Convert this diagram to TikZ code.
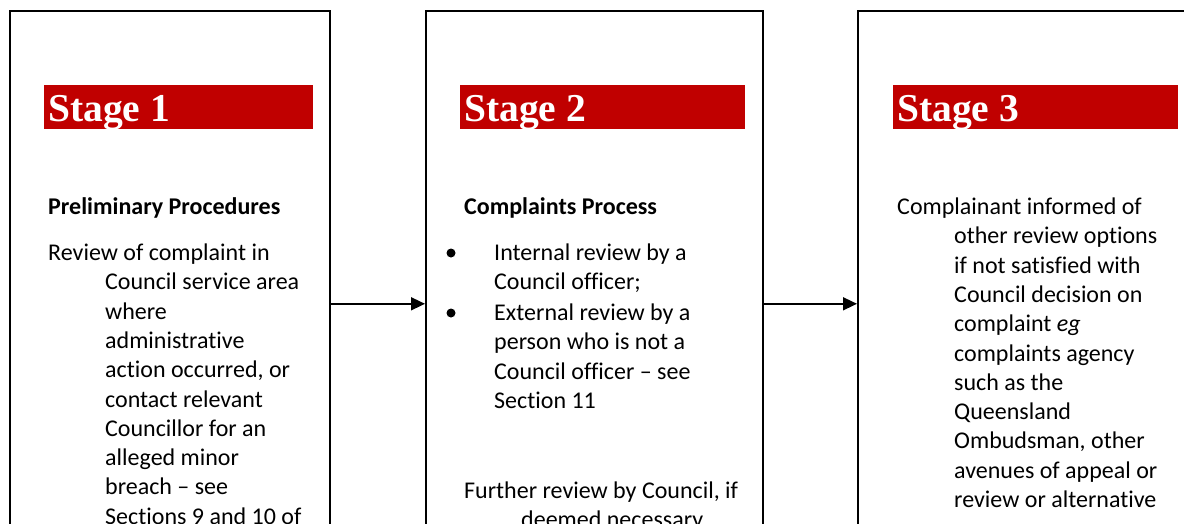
\documentclass[tikz,border=0pt]{standalone}
\usepackage{fontspec}
\setmainfont{Carlito}[RawFeature={-liga;-clig;-dlig}]
\newfontfamily\stagefont{Liberation Serif}
\usetikzlibrary{arrows.meta}
\definecolor{stagered}{HTML}{C00000}
\tikzset{
  stagebox/.style={draw=black, line width=1.6pt, rectangle, inner sep=0pt, minimum height=586pt, anchor=north west},
  stagebar/.style={fill=stagered, rectangle, inner sep=0pt, minimum width=#1, minimum height=44pt, anchor=north west},
  stagetext/.style={text=white, inner sep=0pt, anchor=base west, font=\stagefont\bfseries\fontsize{39.5}{41}\selectfont},
  bodytext/.style={inner sep=0pt, anchor=base west, text=black, font=\fontsize{24}{29.3}\selectfont},
  bulletdot/.style={circle, fill=black, inner sep=0pt, minimum size=9pt},
  flowarrow/.style={line width=1.6pt, -{Triangle[length=14pt,width=13pt]}}
}
\newcommand{\hangpar}[2]{\parbox[t]{#1}{\noindent\hangindent=57pt\hangafter=1 #2}}
\begin{document}
\begin{tikzpicture}[x=1pt,y=-1pt]
\useasboundingbox (0,0) rectangle (1184,523);
\clip (0,0) rectangle (1184,523);
\fill[white] (0,0) rectangle (1184,523);
% boxes
\node[stagebox, minimum width=320pt] (b1) at (9,10) {};
\node[stagebox, minimum width=337pt] (b2) at (425,10) {};
\node[stagebox, minimum width=345pt] (b3) at (857,10) {};
% arrows
\draw[flowarrow] (b1.east) -- (b2.west);
\draw[flowarrow] (b2.east) -- (b3.west);
% stage bars
\node[stagebar=269pt] (bar1) at (44,85) {};
\node[stagebar=285pt] (bar2) at (460,85) {};
\node[stagebar=285pt] (bar3) at (893,85) {};
\node[stagetext] (st1) at (48,121) {Stage 1};
\node[stagetext] (st2) at (464,121) {Stage 2};
\node[stagetext] (st3) at (897,121) {Stage 3};
% stage 1 text
\node[bodytext] (h1) at (48,214.5) {\textbf{Preliminary Procedures}};
\node[bodytext] (p1) at (48,260.5) {\hangpar{300pt}{Review of complaint in\\Council service area\\where\\administrative\\action occurred, or\\contact relevant\\Councillor for an\\alleged minor\\breach -- see\\Sections 9 and 10 of}};
% stage 2 text
\node[bodytext] (h2) at (464,214.5) {\textbf{Complaints Process}};
\node[bulletdot] (d1) at (451,253) {};
\node[bulletdot] (d2) at (451,313) {};
\node[bodytext] (i1) at (494,260.5) {\parbox[t]{260pt}{Internal review by a\\Council officer;}};
\node[bodytext] (i2) at (494,320.5) {\parbox[t]{260pt}{External review by a\\person who is not a\\Council officer -- see\\Section 11}};
\node[bodytext] (p2) at (464,498.5) {\hangpar{300pt}{Further review by Council, if\\deemed necessary}};
% stage 3 text
\node[bodytext] (p3) at (897,214.5) {\hangpar{300pt}{Complainant informed of\\other review options\\if not satisfied with\\Council decision on\\complaint \textit{eg}\\complaints agency\\such as the\\Queensland\\Ombudsman, other\\avenues of appeal or\\review or alternative}};
\end{tikzpicture}
\end{document}
